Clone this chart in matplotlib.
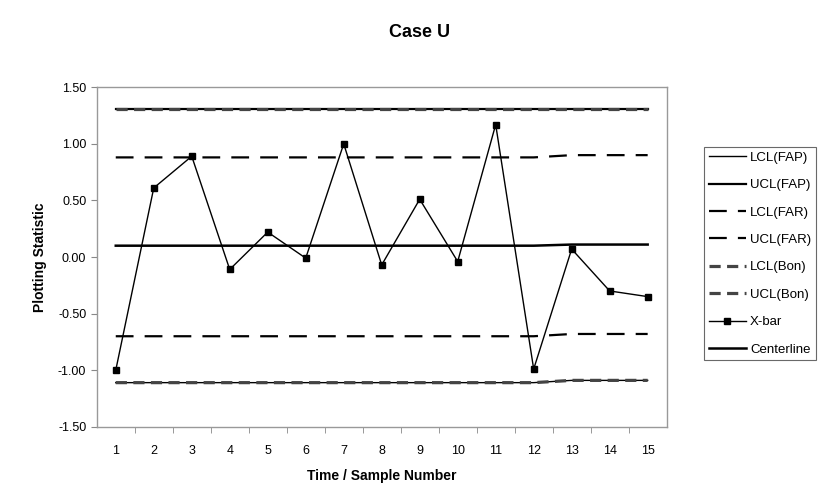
import matplotlib
matplotlib.use("Agg")
import matplotlib.pyplot as plt

plt.rcParams["font.family"] = ["Liberation Sans", "DejaVu Sans"]

# Sample numbers and the plotted statistic
samples = list(range(1, 16))
xbar = [-1.00, 0.61, 0.89, -0.11, 0.22, -0.01, 1.00, -0.07, 0.51, -0.04,
        1.17, -0.99, 0.07, -0.30, -0.35]

# Control limits (slight shift after sample 12)
centerline = [0.10] * 12 + [0.11] * 3
ucl_far = [0.88] * 12 + [0.90] * 3
lcl_far = [-0.70] * 12 + [-0.68] * 3
ucl_fap = [1.31] * 12 + [1.31] * 3
lcl_fap = [-1.11] * 12 + [-1.09] * 3
ucl_bon = ucl_fap
lcl_bon = lcl_fap

yticks = [-1.5, -1.0, -0.5, 0.0, 0.5, 1.0, 1.5]

fig = plt.figure(figsize=(8.2, 4.9), dpi=100)
ax = fig.add_axes([0.118, 0.129, 0.695, 0.693])

ax.plot(samples, lcl_fap, color="black", lw=1.0, label="LCL(FAP)")
ax.plot(samples, ucl_fap, color="black", lw=1.6, label="UCL(FAP)")
ax.plot(samples, lcl_far, color="black", lw=1.6, ls=(0, (8, 5)), label="LCL(FAR)")
ax.plot(samples, ucl_far, color="black", lw=1.6, ls=(0, (8, 5)), label="UCL(FAR)")
ax.plot(samples, lcl_bon, color="#444444", lw=2.3, ls=(0, (3.5, 2)), label="LCL(Bon)")
ax.plot(samples, ucl_bon, color="#444444", lw=2.3, ls=(0, (3.5, 2)), label="UCL(Bon)")
ax.plot(samples, xbar, color="black", lw=1.0, marker="s", ms=5, label="X-bar")
ax.plot(samples, centerline, color="black", lw=1.8, label="Centerline")

ax.set_xlim(0.5, 15.5)
ax.set_ylim(-1.5, 1.5)
ax.set_yticks(yticks)
ax.set_yticklabels([f"{v:.2f}" for v in yticks], fontsize=9)
ax.set_xticks(samples)
ax.set_xticklabels([str(s) for s in samples], fontsize=9)
ax.set_xticks([s + 0.5 for s in samples[:-1]], minor=True)
ax.tick_params(axis="x", which="major", length=0, pad=13)
ax.tick_params(axis="x", which="minor", length=4, color="#888888")
ax.tick_params(axis="y", length=4, color="#888888")
for sp in ax.spines.values():
    sp.set_color("#999999")
    sp.set_linewidth(1.0)

ax.set_xlabel("Time / Sample Number", fontsize=10, fontweight="bold", labelpad=9)
ax.set_ylabel("Plotting Statistic", fontsize=10, fontweight="bold", labelpad=8)
fig.text(0.512, 0.933, "Case U", ha="center", va="center", fontsize=13, fontweight="bold")

leg = fig.legend(loc="upper left", bbox_to_anchor=(0.859, 0.70), fontsize=9.5,
                 frameon=True, fancybox=False, edgecolor="#444444",
                 handlelength=2.8, handletextpad=0.3, labelspacing=1.15,
                 borderpad=0.35, borderaxespad=0.0)
leg.get_frame().set_linewidth(0.8)

fig.savefig("out.png", dpi=100)
